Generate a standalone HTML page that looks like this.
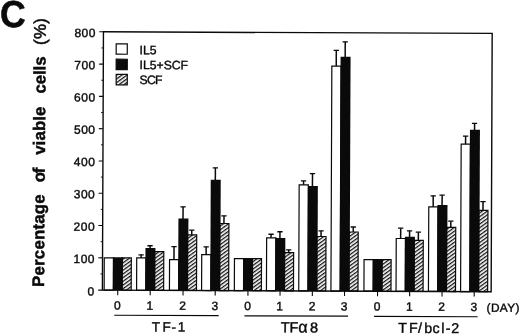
<!DOCTYPE html>
<html><head><meta charset="utf-8"><title>Figure C</title>
<style>html,body{margin:0;padding:0;background:#fff;}body{width:520px;height:335px;overflow:hidden;}svg{display:block;}text{font-family:"Liberation Sans",sans-serif;fill:#0a0a0a;}text.r{stroke:#0a0a0a;stroke-width:0.4px;}text.b{stroke:#0a0a0a;stroke-width:0.45px;}</style>
</head><body>
<svg width="520" height="335" viewBox="0 0 520 335">
<defs><pattern id="h" width="3" height="3" patternUnits="userSpaceOnUse" patternTransform="rotate(-36)"><rect x="0" y="0" width="3" height="3" fill="#fff"/><rect x="0" y="0" width="3" height="1.3" fill="#111"/></pattern></defs>
<rect width="520" height="335" fill="#fff"/>
<g transform="rotate(0.23 260 167.5)">
<rect x="104.63" y="258.51" width="9.20" height="32.24" fill="#fff" stroke="#0a0a0a" stroke-width="1.2"/>
<rect x="122.48" y="258.43" width="9.20" height="32.32" fill="url(#h)" stroke="#0a0a0a" stroke-width="1.2"/>
<rect x="137.08" y="258.38" width="9.20" height="32.37" fill="#fff" stroke="#0a0a0a" stroke-width="1.2"/>
<path d="M141.48 258.28V255.28" stroke="#0a0a0a" stroke-width="1.5" fill="none"/><path d="M138.83 255.28H144.13" stroke="#0a0a0a" stroke-width="1.3" fill="none"/>
<rect x="154.93" y="252.10" width="9.20" height="38.65" fill="url(#h)" stroke="#0a0a0a" stroke-width="1.2"/>
<rect x="169.93" y="259.94" width="9.20" height="30.81" fill="#fff" stroke="#0a0a0a" stroke-width="1.2"/>
<path d="M174.33 259.84V246.89" stroke="#0a0a0a" stroke-width="1.5" fill="none"/><path d="M171.68 246.89H176.98" stroke="#0a0a0a" stroke-width="1.3" fill="none"/>
<rect x="187.78" y="235.17" width="9.20" height="55.58" fill="url(#h)" stroke="#0a0a0a" stroke-width="1.2"/>
<path d="M192.03 235.07V230.47" stroke="#0a0a0a" stroke-width="1.5" fill="none"/><path d="M189.38 230.47H194.68" stroke="#0a0a0a" stroke-width="1.3" fill="none"/>
<rect x="202.08" y="254.81" width="9.20" height="35.94" fill="#fff" stroke="#0a0a0a" stroke-width="1.2"/>
<path d="M206.48 254.71V247.06" stroke="#0a0a0a" stroke-width="1.5" fill="none"/><path d="M203.83 247.06H209.13" stroke="#0a0a0a" stroke-width="1.3" fill="none"/>
<rect x="219.93" y="223.64" width="9.20" height="67.11" fill="url(#h)" stroke="#0a0a0a" stroke-width="1.2"/>
<path d="M224.18 223.54V215.99" stroke="#0a0a0a" stroke-width="1.5" fill="none"/><path d="M221.53 215.99H226.83" stroke="#0a0a0a" stroke-width="1.3" fill="none"/>
<rect x="234.83" y="258.68" width="9.20" height="32.07" fill="#fff" stroke="#0a0a0a" stroke-width="1.2"/>
<rect x="252.68" y="258.61" width="9.20" height="32.14" fill="url(#h)" stroke="#0a0a0a" stroke-width="1.2"/>
<rect x="266.93" y="237.75" width="9.20" height="53.00" fill="#fff" stroke="#0a0a0a" stroke-width="1.2"/>
<path d="M271.33 237.65V234.20" stroke="#0a0a0a" stroke-width="1.5" fill="none"/><path d="M268.68 234.20H273.98" stroke="#0a0a0a" stroke-width="1.3" fill="none"/>
<rect x="284.78" y="252.48" width="9.20" height="38.27" fill="url(#h)" stroke="#0a0a0a" stroke-width="1.2"/>
<path d="M289.03 252.38V249.68" stroke="#0a0a0a" stroke-width="1.5" fill="none"/><path d="M286.38 249.68H291.68" stroke="#0a0a0a" stroke-width="1.3" fill="none"/>
<rect x="299.23" y="184.72" width="9.20" height="106.03" fill="#fff" stroke="#0a0a0a" stroke-width="1.2"/>
<path d="M303.63 184.62V180.72" stroke="#0a0a0a" stroke-width="1.5" fill="none"/><path d="M300.98 180.72H306.28" stroke="#0a0a0a" stroke-width="1.3" fill="none"/>
<rect x="317.08" y="236.25" width="9.20" height="54.50" fill="url(#h)" stroke="#0a0a0a" stroke-width="1.2"/>
<path d="M321.33 236.15V230.55" stroke="#0a0a0a" stroke-width="1.5" fill="none"/><path d="M318.68 230.55H323.98" stroke="#0a0a0a" stroke-width="1.3" fill="none"/>
<rect x="331.43" y="65.80" width="9.20" height="224.95" fill="#fff" stroke="#0a0a0a" stroke-width="1.2"/>
<path d="M335.83 65.70V50.05" stroke="#0a0a0a" stroke-width="1.5" fill="none"/><path d="M333.18 50.05H338.48" stroke="#0a0a0a" stroke-width="1.3" fill="none"/>
<rect x="349.28" y="231.62" width="9.20" height="59.13" fill="url(#h)" stroke="#0a0a0a" stroke-width="1.2"/>
<path d="M353.53 231.52V226.62" stroke="#0a0a0a" stroke-width="1.5" fill="none"/><path d="M350.88 226.62H356.18" stroke="#0a0a0a" stroke-width="1.3" fill="none"/>
<rect x="364.43" y="259.16" width="9.20" height="31.59" fill="#fff" stroke="#0a0a0a" stroke-width="1.2"/>
<rect x="382.28" y="259.09" width="9.20" height="31.66" fill="url(#h)" stroke="#0a0a0a" stroke-width="1.2"/>
<rect x="396.53" y="237.93" width="9.20" height="52.82" fill="#fff" stroke="#0a0a0a" stroke-width="1.2"/>
<path d="M400.93 237.83V227.63" stroke="#0a0a0a" stroke-width="1.5" fill="none"/><path d="M398.28 227.63H403.58" stroke="#0a0a0a" stroke-width="1.3" fill="none"/>
<rect x="414.38" y="239.66" width="9.20" height="51.09" fill="url(#h)" stroke="#0a0a0a" stroke-width="1.2"/>
<path d="M418.63 239.56V231.56" stroke="#0a0a0a" stroke-width="1.5" fill="none"/><path d="M415.98 231.56H421.28" stroke="#0a0a0a" stroke-width="1.3" fill="none"/>
<rect x="428.93" y="206.10" width="9.20" height="84.65" fill="#fff" stroke="#0a0a0a" stroke-width="1.2"/>
<path d="M433.33 206.00V195.10" stroke="#0a0a0a" stroke-width="1.5" fill="none"/><path d="M430.68 195.10H435.98" stroke="#0a0a0a" stroke-width="1.3" fill="none"/>
<rect x="446.78" y="226.63" width="9.20" height="64.12" fill="url(#h)" stroke="#0a0a0a" stroke-width="1.2"/>
<path d="M451.03 226.53V220.43" stroke="#0a0a0a" stroke-width="1.5" fill="none"/><path d="M448.38 220.43H453.68" stroke="#0a0a0a" stroke-width="1.3" fill="none"/>
<rect x="461.08" y="143.28" width="9.20" height="147.47" fill="#fff" stroke="#0a0a0a" stroke-width="1.2"/>
<path d="M465.48 143.18V135.28" stroke="#0a0a0a" stroke-width="1.5" fill="none"/><path d="M462.83 135.28H468.13" stroke="#0a0a0a" stroke-width="1.3" fill="none"/>
<rect x="478.93" y="209.50" width="9.20" height="81.25" fill="url(#h)" stroke="#0a0a0a" stroke-width="1.2"/>
<path d="M483.18 209.40V200.70" stroke="#0a0a0a" stroke-width="1.5" fill="none"/><path d="M480.53 200.70H485.83" stroke="#0a0a0a" stroke-width="1.3" fill="none"/>
<rect x="113.33" y="257.87" width="10.00" height="32.88" fill="#0a0a0a"/>
<rect x="145.78" y="248.44" width="10.00" height="42.31" fill="#0a0a0a"/>
<path d="M150.38 248.94V246.19" stroke="#0a0a0a" stroke-width="1.5" fill="none"/><path d="M147.73 246.19H153.03" stroke="#0a0a0a" stroke-width="1.3" fill="none"/>
<rect x="178.63" y="218.91" width="10.00" height="71.84" fill="#0a0a0a"/>
<path d="M183.23 219.41V207.16" stroke="#0a0a0a" stroke-width="1.5" fill="none"/><path d="M180.58 207.16H185.88" stroke="#0a0a0a" stroke-width="1.3" fill="none"/>
<rect x="210.78" y="179.88" width="10.00" height="110.87" fill="#0a0a0a"/>
<path d="M215.38 180.38V167.98" stroke="#0a0a0a" stroke-width="1.5" fill="none"/><path d="M212.73 167.98H218.03" stroke="#0a0a0a" stroke-width="1.3" fill="none"/>
<rect x="243.53" y="258.05" width="10.00" height="32.70" fill="#0a0a0a"/>
<rect x="275.63" y="237.82" width="10.00" height="52.93" fill="#0a0a0a"/>
<path d="M280.23 238.32V231.67" stroke="#0a0a0a" stroke-width="1.5" fill="none"/><path d="M277.58 231.67H282.88" stroke="#0a0a0a" stroke-width="1.3" fill="none"/>
<rect x="307.93" y="185.79" width="10.00" height="104.96" fill="#0a0a0a"/>
<path d="M312.53 186.29V173.39" stroke="#0a0a0a" stroke-width="1.5" fill="none"/><path d="M309.88 173.39H315.18" stroke="#0a0a0a" stroke-width="1.3" fill="none"/>
<rect x="340.13" y="56.36" width="10.00" height="234.39" fill="#0a0a0a"/>
<path d="M344.73 56.86V41.51" stroke="#0a0a0a" stroke-width="1.5" fill="none"/><path d="M342.08 41.51H347.38" stroke="#0a0a0a" stroke-width="1.3" fill="none"/>
<rect x="373.13" y="258.53" width="10.00" height="32.22" fill="#0a0a0a"/>
<rect x="405.23" y="236.10" width="10.00" height="54.65" fill="#0a0a0a"/>
<path d="M409.83 236.60V230.20" stroke="#0a0a0a" stroke-width="1.5" fill="none"/><path d="M407.18 230.20H412.48" stroke="#0a0a0a" stroke-width="1.3" fill="none"/>
<rect x="437.63" y="204.37" width="10.00" height="86.38" fill="#0a0a0a"/>
<path d="M442.23 204.87V194.47" stroke="#0a0a0a" stroke-width="1.5" fill="none"/><path d="M439.58 194.47H444.88" stroke="#0a0a0a" stroke-width="1.3" fill="none"/>
<rect x="469.78" y="128.84" width="10.00" height="161.91" fill="#0a0a0a"/>
<path d="M474.38 129.34V122.44" stroke="#0a0a0a" stroke-width="1.5" fill="none"/><path d="M471.73 122.44H477.03" stroke="#0a0a0a" stroke-width="1.3" fill="none"/>
<rect x="102.9" y="32.45" width="388.75" height="258.3" fill="none" stroke="#0a0a0a" stroke-width="1.4"/>
<path d="M98.70 290.75H102.9" stroke="#0a0a0a" stroke-width="1.1"/>
<text x="95.10" y="296.25" font-size="12" letter-spacing="0.5" text-anchor="end" class="r">0</text>
<path d="M100.90 274.61H102.9" stroke="#0a0a0a" stroke-width="0.9"/>
<path d="M98.70 258.46H102.9" stroke="#0a0a0a" stroke-width="1.1"/>
<text x="95.40" y="263.66" font-size="12" letter-spacing="0.5" text-anchor="end" class="r">100</text>
<path d="M100.90 242.32H102.9" stroke="#0a0a0a" stroke-width="0.9"/>
<path d="M98.70 226.18H102.9" stroke="#0a0a0a" stroke-width="1.1"/>
<text x="95.40" y="231.38" font-size="12" letter-spacing="0.5" text-anchor="end" class="r">200</text>
<path d="M100.90 210.03H102.9" stroke="#0a0a0a" stroke-width="0.9"/>
<path d="M98.70 193.89H102.9" stroke="#0a0a0a" stroke-width="1.1"/>
<text x="95.40" y="199.09" font-size="12" letter-spacing="0.5" text-anchor="end" class="r">300</text>
<path d="M100.90 177.74H102.9" stroke="#0a0a0a" stroke-width="0.9"/>
<path d="M98.70 161.60H102.9" stroke="#0a0a0a" stroke-width="1.1"/>
<text x="95.40" y="166.80" font-size="12" letter-spacing="0.5" text-anchor="end" class="r">400</text>
<path d="M100.90 145.46H102.9" stroke="#0a0a0a" stroke-width="0.9"/>
<path d="M98.70 129.31H102.9" stroke="#0a0a0a" stroke-width="1.1"/>
<text x="95.40" y="134.51" font-size="12" letter-spacing="0.5" text-anchor="end" class="r">500</text>
<path d="M100.90 113.17H102.9" stroke="#0a0a0a" stroke-width="0.9"/>
<path d="M98.70 97.02H102.9" stroke="#0a0a0a" stroke-width="1.1"/>
<text x="95.40" y="102.22" font-size="12" letter-spacing="0.5" text-anchor="end" class="r">600</text>
<path d="M100.90 80.88H102.9" stroke="#0a0a0a" stroke-width="0.9"/>
<path d="M98.70 64.74H102.9" stroke="#0a0a0a" stroke-width="1.1"/>
<text x="95.40" y="69.94" font-size="12" letter-spacing="0.5" text-anchor="end" class="r">700</text>
<path d="M100.90 48.59H102.9" stroke="#0a0a0a" stroke-width="0.9"/>
<path d="M98.70 32.45H102.9" stroke="#0a0a0a" stroke-width="1.1"/>
<text x="95.40" y="37.65" font-size="12" letter-spacing="0.5" text-anchor="end" class="r">800</text>
<path d="M118.25 290.75V295.75" stroke="#0a0a0a" stroke-width="1.1"/>
<text x="117.95" y="310.1" font-size="12" text-anchor="middle" class="r">0</text>
<path d="M150.70 290.75V295.75" stroke="#0a0a0a" stroke-width="1.1"/>
<text x="150.40" y="310.1" font-size="12" text-anchor="middle" class="r">1</text>
<path d="M183.55 290.75V295.75" stroke="#0a0a0a" stroke-width="1.1"/>
<text x="183.25" y="310.1" font-size="12" text-anchor="middle" class="r">2</text>
<path d="M215.70 290.75V295.75" stroke="#0a0a0a" stroke-width="1.1"/>
<text x="215.40" y="310.1" font-size="12" text-anchor="middle" class="r">3</text>
<path d="M248.45 290.75V295.75" stroke="#0a0a0a" stroke-width="1.1"/>
<text x="248.15" y="310.1" font-size="12" text-anchor="middle" class="r">0</text>
<path d="M280.55 290.75V295.75" stroke="#0a0a0a" stroke-width="1.1"/>
<text x="280.25" y="310.1" font-size="12" text-anchor="middle" class="r">1</text>
<path d="M312.85 290.75V295.75" stroke="#0a0a0a" stroke-width="1.1"/>
<text x="312.55" y="310.1" font-size="12" text-anchor="middle" class="r">2</text>
<path d="M345.05 290.75V295.75" stroke="#0a0a0a" stroke-width="1.1"/>
<text x="344.75" y="310.1" font-size="12" text-anchor="middle" class="r">3</text>
<path d="M378.05 290.75V295.75" stroke="#0a0a0a" stroke-width="1.1"/>
<text x="377.75" y="310.1" font-size="12" text-anchor="middle" class="r">0</text>
<path d="M410.15 290.75V295.75" stroke="#0a0a0a" stroke-width="1.1"/>
<text x="409.85" y="310.1" font-size="12" text-anchor="middle" class="r">1</text>
<path d="M442.55 290.75V295.75" stroke="#0a0a0a" stroke-width="1.1"/>
<text x="442.25" y="310.1" font-size="12" text-anchor="middle" class="r">2</text>
<path d="M474.70 290.75V295.75" stroke="#0a0a0a" stroke-width="1.1"/>
<text x="474.40" y="310.1" font-size="12" text-anchor="middle" class="r">3</text>
<path d="M114.85 315.85H219.30" stroke="#0a0a0a" stroke-width="1.2"/>
<path d="M245.05 315.85H348.65" stroke="#0a0a0a" stroke-width="1.2"/>
<path d="M374.65 315.85H478.29" stroke="#0a0a0a" stroke-width="1.2"/>
<text x="152.54 163.13 172.24 178.31" y="331.88" font-size="13.5" class="r">TF-1</text>
<text x="281.42 290.15 298.93 310.61" y="332.25" font-size="14.5" class="r">TF<tspan font-size="16.2">α</tspan>8</text>
<text x="398.92 409.58 418.64 424.93 433.24 441.99 446.41 451.83" y="332.24" font-size="14.2" class="r">TF/bcl-2</text>
<text x="487.08" y="310.79" font-size="11.8" letter-spacing="0.45" class="r">(DAY)</text>
<rect x="115.70" y="44.38" width="11.1" height="10.4" fill="#fff" stroke="#0a0a0a" stroke-width="1.2"/>
<rect x="115.76" y="59.78" width="11.1" height="10.4" fill="#0a0a0a" stroke="#0a0a0a" stroke-width="1.2"/>
<rect x="115.83" y="74.98" width="11.1" height="10.4" fill="url(#h)" stroke="#0a0a0a" stroke-width="1.2"/>
<text x="139.15" y="54.68" font-size="12.2" letter-spacing="0" class="r">IL5</text>
<text x="139.21" y="69.58" font-size="12.2" letter-spacing="0" class="r">IL5+SCF</text>
<text x="139.27" y="84.38" font-size="12.2" letter-spacing="-0.8" class="r">SCF</text>
<text transform="translate(44.57 287.79) rotate(-90)" font-size="16.8" font-weight="bold" class="b" letter-spacing="0.235">Percentage</text>
<text transform="translate(44.88 183.02) rotate(-90)" font-size="16.8" font-weight="bold" class="b" letter-spacing="-1.433">of</text>
<text transform="translate(44.96 155.73) rotate(-90)" font-size="16.8" font-weight="bold" class="b" letter-spacing="0.143">viable</text>
<text transform="translate(45.15 94.42) rotate(-90)" font-size="16.8" font-weight="bold" class="b" letter-spacing="-0.055">cells</text>
<text transform="translate(45.21 45.86) rotate(-90)" font-size="16.9" letter-spacing="0.3" style="stroke:#0a0a0a;stroke-width:0.55px">(%)</text>
<text transform="translate(-0.51 28.14) scale(0.944 1)" font-size="37.6" font-weight="bold" stroke="#0a0a0a" stroke-width="0.6" stroke-linejoin="round">C</text>
</g></svg></body></html>
